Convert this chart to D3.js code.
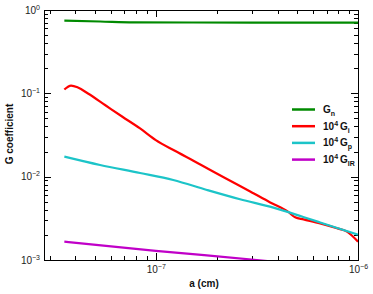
<!DOCTYPE html>
<meta charset="utf-8">
<style>
  body { margin: 0; background: #fff; }
  .axis text {
    font-family: "Liberation Sans", Arial, sans-serif;
    font-size: 10px;
    fill: #222;
  }
  .axis path,
  .axis line {
    fill: none;
    stroke: #000;
    shape-rendering: crispEdges;
  }
  .lbl {
    font-family: "Liberation Sans", Arial, sans-serif;
    font-weight: bold;
    font-size: 10px;
    fill: #111;
  }
</style>
<body>
<svg class="chart"></svg>
<script src="https://cdnjs.cloudflare.com/ajax/libs/d3/7.8.5/d3.min.js"></script>
<script>

// series values (a in cm, G dimensionless)
var aN = [3.53e-8, 5.3e-8, 7.75e-8, 1.5e-7, 3e-7, 6e-7, 1e-6];
var gN = [0.744, 0.728, 0.711, 0.708, 0.706, 0.705, 0.704];

var aI = [3.53e-8, 3.81e-8, 4.12e-8, 4.62e-8, 5.61e-8, 6.81e-8, 8.36e-8, 1e-7, 1.25e-7, 1.66e-7, 2.2e-7, 2.93e-7, 3.68e-7, 4.52e-7, 4.89e-7, 5.38e-7, 6.5e-7, 7.87e-7, 8.82e-7, 1e-6];
var gI = [0.111, 0.124, 0.1175, 0.0995, 0.0724, 0.0527, 0.0379, 0.0275, 0.0203, 0.0140, 0.00964, 0.00664, 0.0049, 0.00377, 0.00325, 0.00307, 0.00275, 0.0024, 0.00219, 0.00166];

var aP = [3.53e-8, 5.3e-8, 8.36e-8, 1.22e-7, 1.79e-7, 2.61e-7, 3.82e-7, 5.36e-7, 6.5e-7, 7.89e-7, 1e-6];
var gP = [0.0174, 0.0138, 0.01107, 0.00912, 0.00692, 0.00535, 0.00425, 0.00328, 0.00282, 0.00242, 0.00201];

var aIR = [3.53e-8, 1e-7, 3.16e-7, 1e-6];
var gIR = [0.00166, 0.00129, 0.001, 0.00075];

var seriesColor = ["#008a00", "#ff0000", "#1cc4c8", "#c000c8"];
var legendSub = ["n", "i", "p", "IR"];
var legendScaled = [false, true, true, true];

var xMajor = [1e-7, 1e-6];
var xMinor = [3e-8, 4e-8, 5e-8, 6e-8, 7e-8, 8e-8, 9e-8, 2e-7, 3e-7, 4e-7, 5e-7, 6e-7, 7e-7, 8e-7, 9e-7];
var yMajor = [1e-3, 1e-2, 1e-1, 1];

var margin = { top: 10, right: 15, bottom: 34, left: 44 };
var width = 373 - margin.left - margin.right;
var height = 294 - margin.top - margin.bottom;

var svg = d3.select(".chart")
    .attr("width", 373)
    .attr("height", 294);

var chart = svg.append("g")
    .attr("transform", "translate(" + margin.left + "," + margin.top + ")");

var x = d3.scaleLog().domain([2.8e-8, 1e-6]).range([0, width]);
var y = d3.scaleLog().domain([1e-3, 1]).range([height, 0]);

// minor y ticks: 2..9 per decade
var yMinor = [];
[1e-3, 1e-2, 1e-1].forEach(function (d) {
  for (var k = 2; k <= 9; k++) yMinor.push(d * k);
});

// write 10^n with a raised exponent
function sup(sel) {
  sel.each(function (d) {
    var t = d3.select(this);
    var e = Math.round(Math.log10(d));
    t.text("");
    t.append("tspan").text("10");
    t.append("tspan")
        .attr("dy", "-4")
        .style("font-size", "7px")
        .text(e < 0 ? "\u2212" + (-e) : e);
  });
}

// bottom
chart.append("g").attr("class", "axis")
    .attr("transform", "translate(0," + height + ")")
    .call(d3.axisBottom(x).tickValues(xMajor).tickSizeInner(-7).tickSizeOuter(0).tickPadding(6))
    .selectAll("text").call(sup);
chart.append("g").attr("class", "axis")
    .attr("transform", "translate(0," + height + ")")
    .call(d3.axisBottom(x).tickValues(xMinor).tickSizeInner(-4).tickSizeOuter(0).tickFormat(""));
// top
chart.append("g").attr("class", "axis")
    .call(d3.axisTop(x).tickValues(xMajor).tickSizeInner(-7).tickSizeOuter(0).tickFormat(""));
chart.append("g").attr("class", "axis")
    .call(d3.axisTop(x).tickValues(xMinor).tickSizeInner(-4).tickSizeOuter(0).tickFormat(""));
// left
chart.append("g").attr("class", "axis")
    .call(d3.axisLeft(y).tickValues(yMajor).tickSizeInner(-7).tickSizeOuter(0).tickPadding(4))
    .selectAll("text").call(sup);
chart.append("g").attr("class", "axis")
    .call(d3.axisLeft(y).tickValues(yMinor).tickSizeInner(-4).tickSizeOuter(0).tickFormat(""));
// right
chart.append("g").attr("class", "axis")
    .attr("transform", "translate(" + width + ",0)")
    .call(d3.axisRight(y).tickValues(yMajor).tickSizeInner(-7).tickSizeOuter(0).tickFormat(""));
chart.append("g").attr("class", "axis")
    .attr("transform", "translate(" + width + ",0)")
    .call(d3.axisRight(y).tickValues(yMinor).tickSizeInner(-4).tickSizeOuter(0).tickFormat(""));

// curves, clipped to the plot box
chart.append("clipPath").attr("id", "clip")
  .append("rect").attr("width", width).attr("height", height);

var line = d3.line()
    .x(function (d) { return x(d[0]); })
    .y(function (d) { return y(d[1]); })
    .curve(d3.curveMonotoneX);

var series = [d3.zip(aN, gN), d3.zip(aI, gI), d3.zip(aP, gP), d3.zip(aIR, gIR)];

chart.append("g").attr("clip-path", "url(#clip)")
  .selectAll("path")
    .data(series)
  .enter().append("path")
    .attr("d", line)
    .attr("fill", "none")
    .attr("stroke", function (d, i) { return seriesColor[i]; })
    .attr("stroke-width", 2.2);

// legend
var leg = chart.selectAll(".leg")
    .data(legendSub)
  .enter().append("g")
    .attr("class", "leg")
    .attr("transform", function (d, i) { return "translate(248," + (99.5 + i * 16.7) + ")"; });

leg.append("line")
    .attr("x1", 0).attr("x2", 23)
    .attr("stroke", function (d, i) { return seriesColor[i]; })
    .attr("stroke-width", 2.5);

leg.append("text")
    .attr("class", "lbl")
    .attr("x", 31)
    .attr("dy", "0.35em")
    .each(function (d, i) {
      var t = d3.select(this);
      if (legendScaled[i]) {
        t.append("tspan").text("10");
        t.append("tspan").attr("dy", -4).style("font-size", "7px").text("4");
        t.append("tspan").attr("dy", 4).text("\u2009G");
      } else {
        t.append("tspan").text("G");
      }
      t.append("tspan").attr("dy", 3).style("font-size", "7px").text(d);
    });

// axis titles
chart.append("text")
    .attr("class", "lbl")
    .attr("transform", "rotate(-90)")
    .attr("x", -124)
    .attr("y", -31)
    .style("text-anchor", "middle")
    .text("G coefficient");

chart.append("text")
    .attr("class", "lbl")
    .attr("x", 160)
    .attr("y", 277)
    .style("text-anchor", "middle")
    .text("a (cm)");

</script>
</body>
